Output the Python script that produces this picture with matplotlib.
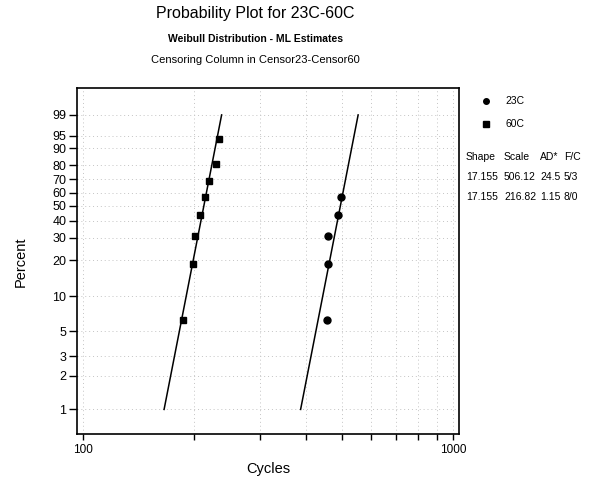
import numpy as np
import matplotlib
matplotlib.use('Agg')
from matplotlib import pyplot as plt

plt.rcParams['font.family'] = ['Liberation Sans', 'DejaVu Sans']

# data (cycles) and plotting positions in percent
c23_cycles = [457, 458, 459, 488, 497]
c23_pct = [6.25, 18.75, 31.25, 43.75, 56.25]
c60_cycles = [186.5, 198.4, 200.9, 207.6, 214.1, 219.1, 228.8, 233.2]
c60_pct = [6.25, 18.75, 31.25, 43.75, 56.25, 68.75, 81.25, 93.75]

# table values
labels = ['23C', '60C']
shapes = [17.155, 17.155]
scales = [506.12, 216.82]
ads = ['24.5', '1.15']
fcs = ['5/3', '8/0']

y_ticks = [1, 2, 3, 5, 10, 20, 30, 40, 50, 60, 70, 80, 90, 95, 99]


def fwd(p):
    p = np.clip(np.asarray(p, dtype=float), 1e-6, 100 - 1e-9)
    return np.log(-np.log(1 - p / 100.0))


def inv(y):
    return 100.0 * (1 - np.exp(-np.exp(y)))


fig = plt.figure(figsize=(6, 4.78), dpi=100)
ax = fig.add_axes([0.129, 0.0914, 0.6355, 0.7239])
ax.set_xscale('log')
ax.set_yscale('function', functions=(fwd, inv))

# fitted lines from 1% to 99%
for sh, sc in zip(shapes, scales):
    p_end = np.array([1.0, 99.0])
    t_end = sc * (-np.log(1 - p_end / 100)) ** (1 / sh)
    ax.plot(t_end, p_end, color='black', lw=1.1)

ax.plot(c23_cycles, c23_pct, 'o', color='black', ms=5, ls='none')
ax.plot(c60_cycles, c60_pct, 's', color='black', ms=5, ls='none')

ax.set_xlim(96.8, 1033)
ax.set_ylim(0.597, 99.967)

xt = list(range(100, 1001, 100))
ax.set_xticks(xt)
ax.set_xticklabels(['100'] + [''] * 8 + ['1000'])
ax.xaxis.set_minor_locator(matplotlib.ticker.NullLocator())
ax.set_yticks(y_ticks)
ax.set_yticklabels([str(v) for v in y_ticks])
ax.yaxis.set_minor_locator(matplotlib.ticker.NullLocator())
ax.tick_params(axis='y', direction='out', length=6, width=1, labelsize=9, pad=2)
ax.tick_params(axis='x', direction='out', length=4, width=1, labelsize=8.5, pad=3)

ax.grid(True, color='#c4c4c4', linestyle=(0, (1, 3)), lw=0.7)
for s in ax.spines.values():
    s.set_linewidth(1.2)

ax.set_xlabel('Cycles', fontsize=10.5, labelpad=4)
ax.set_ylabel('Percent', fontsize=10.5, labelpad=18)

fig.text(0.425, 0.971, 'Probability Plot for 23C-60C', ha='center', va='center', fontsize=11.5)
fig.text(0.425, 0.918, 'Weibull Distribution - ML Estimates', ha='center', va='center',
         fontsize=7.5, fontweight='bold')
fig.text(0.425, 0.874, 'Censoring Column in Censor23-Censor60', ha='center', va='center', fontsize=8)

# legend and table to the right
fig.lines.append(plt.Line2D([486 / 600], [1 - 101 / 478], marker='o', color='black', ms=4,
                            transform=fig.transFigure))
fig.lines.append(plt.Line2D([486 / 600], [1 - 124 / 478], marker='s', color='black', ms=4,
                            transform=fig.transFigure))
fig.text(505 / 600, 1 - 101 / 478, labels[0], va='center', fontsize=7.5)
fig.text(505 / 600, 1 - 124 / 478, labels[1], va='center', fontsize=7.5)

cols_x = [466, 504, 540, 564]
hdr = ['Shape', 'Scale', 'AD*', 'F/C']
for x, h in zip(cols_x, hdr):
    fig.text(x / 600, 1 - 157 / 478, h, va='center', fontsize=7.5)
for i in range(2):
    row = ['%.3f' % shapes[i], '%.2f' % scales[i], ads[i], fcs[i]]
    for x, v in zip(cols_x, row):
        fig.text(x / 600, 1 - (177 + 20 * i) / 478, v, va='center', fontsize=7.5)

fig.savefig('out.png', dpi=100)
